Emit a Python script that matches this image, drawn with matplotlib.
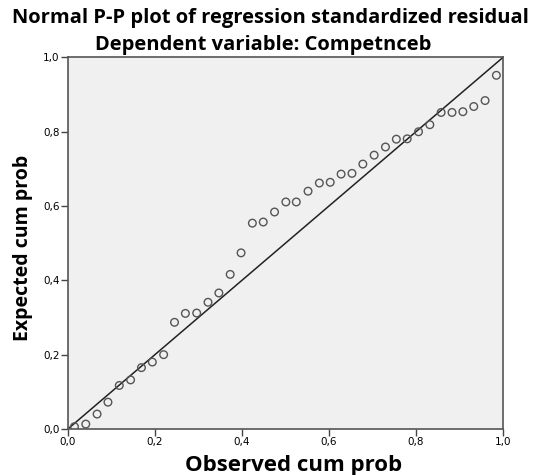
import matplotlib
matplotlib.use("Agg")
import matplotlib.pyplot as plt
from matplotlib.ticker import FuncFormatter

# observed vs expected cumulative probabilities
observed = [0.015, 0.041, 0.067, 0.092, 0.118, 0.144, 0.169, 0.194, 0.220, 0.245,
            0.270, 0.296, 0.322, 0.347, 0.373, 0.398, 0.424, 0.449, 0.475, 0.501,
            0.525, 0.552, 0.578, 0.603, 0.628, 0.653, 0.678, 0.704, 0.730, 0.755,
            0.780, 0.806, 0.832, 0.858, 0.883, 0.908, 0.933, 0.959, 0.985]
expected = [0.006, 0.013, 0.040, 0.072, 0.117, 0.132, 0.165, 0.180, 0.200, 0.287,
            0.311, 0.312, 0.341, 0.366, 0.416, 0.474, 0.554, 0.557, 0.584, 0.611,
            0.611, 0.640, 0.662, 0.664, 0.686, 0.688, 0.713, 0.737, 0.759, 0.780,
            0.781, 0.800, 0.819, 0.852, 0.852, 0.854, 0.868, 0.884, 0.952]
ticks = [0.0, 0.2, 0.4, 0.6, 0.8, 1.0]

fig = plt.figure(figsize=(5.35, 4.75), dpi=100)
ax = fig.add_axes([0.127, 0.097, 0.813, 0.782])
ax.set_facecolor("#f0f0f0")

# reference diagonal
ax.plot([0, 1], [0, 1], color="#222222", linewidth=1.1)
ax.scatter(observed, expected, s=30, facecolors="none", edgecolors="#555555",
           linewidths=1.0, zorder=3)

ax.set_xlim(0, 1)
ax.set_ylim(0, 1)
ax.set_xticks(ticks)
ax.set_yticks(ticks)
comma = FuncFormatter(lambda v, p: f"{v:.1f}".replace(".", ","))
ax.xaxis.set_major_formatter(comma)
ax.yaxis.set_major_formatter(comma)
ax.tick_params(direction="out", length=5, width=1, color="#444444",
               labelsize=7.5, pad=1)
for sp in ax.spines.values():
    sp.set_color("#555555")
    sp.set_linewidth(1.2)

bold = dict(family="Open Sans", weight="bold")
fig.text(0.505, 0.951, "Normal P-P plot of regression standardized residual",
         ha="center", va="baseline", fontsize=14.5, **bold)
fig.text(0.492, 0.895, "Dependent variable: Competnceb",
         ha="center", va="baseline", fontsize=14.5, **bold)
fig.text(0.549, 0.009, "Observed cum prob", ha="center", va="baseline",
         fontsize=16, **bold)
fig.text(0.053, 0.478, "Expected cum prob", ha="center", va="baseline",
         rotation=90, rotation_mode="anchor", fontsize=14, **bold)

fig.savefig("out.png", dpi=100)
